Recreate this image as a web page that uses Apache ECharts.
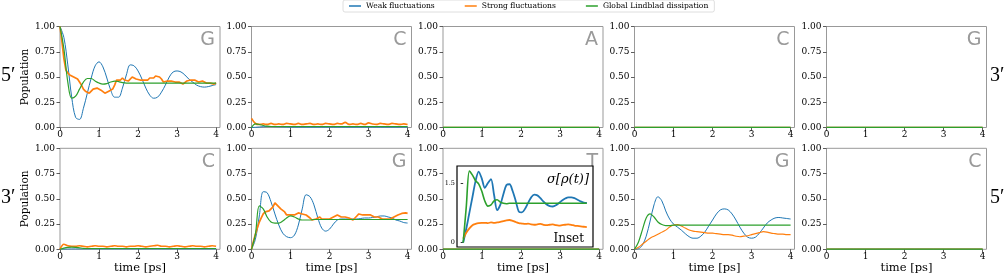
<!DOCTYPE html>
<html><head><meta charset="utf-8">
<script src="https://cdn.jsdelivr.net/npm/echarts@6/dist/echarts.min.js"></script>
<style>html,body{margin:0;padding:0;background:#fff}#c{width:1008px;height:276px}</style>
</head><body><div id="c"></div>
<script>
// ---------- time grids ----------
const T10 = [0,0.1,0.2,0.3,0.4,0.5,0.6,0.7,0.8,0.9,1.0,1.1,1.2,1.3,1.4,1.5,1.6,1.7,1.8,1.9,2.0,2.1,2.2,2.3,2.4,2.5,2.6,2.7,2.8,2.9,3.0,3.1,3.2,3.3,3.4,3.5,3.6,3.7,3.8,3.9,4.0];
const T05 = [0,0.05,0.1,0.15,0.2,0.25,0.3,0.35,0.4,0.45,0.5,0.55,0.6,0.65,0.7,0.75,0.8,0.85,0.9,0.95,1.0,1.05,1.1,1.15,1.2,1.25,1.3,1.35,1.4,1.45,1.5,1.55,1.6,1.65,1.7,1.75,1.8,1.85,1.9,1.95,2.0,2.05,2.1,2.15,2.2,2.25,2.3,2.35,2.4,2.45,2.5,2.55,2.6,2.65,2.7,2.75,2.8,2.85,2.9,2.95,3.0,3.05,3.1,3.15,3.2,3.25,3.3,3.35,3.4,3.45,3.5,3.55,3.6,3.65,3.7,3.75,3.8,3.85,3.9,3.95,4.0];
const TFLAT = [0,1,2,3,4];

// ---------- tick labels / texts ----------
const X_TICKS = [0,1,2,3,4];
const Y_TICKS = [0,0.25,0.5,0.75,1];
const INSET_Y_TICKS = [0,1.5];
const SERIES_NAMES = ['Weak fluctuations','Strong fluctuations','Global Lindblad dissipation'];
const TOP_LETTERS = ['G','C','A','C','G'];
const BOTTOM_LETTERS = ['C','G','T','G','C'];
const LEFT_ROW_LABELS = ['5\u2032','3\u2032'];
const RIGHT_ROW_LABELS = ['3\u2032','5\u2032'];

// ---------- top row, panel 1 (G) ----------
const top1Weak = [1.00,0.89,0.62,0.30,0.10,0.08,0.19,0.34,0.49,0.61,0.65,0.60,0.49,0.37,0.30,0.30,0.39,0.52,0.62,0.61,0.56,0.48,0.39,0.32,0.29,0.30,0.35,0.42,0.50,0.55,0.56,0.55,0.52,0.48,0.45,0.42,0.405,0.40,0.405,0.415,0.425];
const top1Strong = [1.00,0.85,0.68,0.57,0.54,0.52,0.52,0.50,0.49,0.48,
  0.45,0.42,0.38,0.36,0.35,0.34,0.36,0.38,0.37,0.39,
  0.38,0.37,0.36,0.34,0.35,0.36,0.37,0.38,0.42,0.47,
  0.48,0.47,0.49,0.47,0.48,0.46,0.47,0.50,0.49,0.48,
  0.49,0.47,0.46,0.47,0.48,0.47,0.49,0.50,0.49,0.51,
  0.52,0.50,0.48,0.45,0.44,0.46,0.47,0.46,0.47,0.45,
  0.44,0.45,0.44,0.43,0.44,0.46,0.45,0.47,0.48,0.47,
  0.46,0.45,0.44,0.46,0.45,0.44,0.43,0.44,0.44,0.43,0.44];
const top1Global = [1.00,0.78,0.45,0.29,0.31,0.38,0.45,0.485,0.485,0.46,0.44,0.43,0.435,0.45,0.46,0.455,0.445,0.44,0.44,0.44,0.44,0.44,0.44,0.44,0.44,0.44,0.44,0.44,0.44,0.44,0.44,0.44,0.44,0.44,0.44,0.44,0.44,0.44,0.44,0.44,0.44];

// ---------- top row, panel 2 (C) ----------
const top2Weak = [0.0,0.002,0.005,0.008,0.009,0.009,0.008,0.007,0.006,0.005,0.004,0.004,0.004,0.004,0.004,0.004,0.004,0.004,0.004,0.004,0.004,0.004,0.004,0.004,0.004,0.004,0.004,0.004,0.004,0.004,0.004,0.004,0.004,0.004,0.004,0.004,0.004,0.004,0.004,0.004,0.004];
const top2Strong = [0.09,0.04,0.03,0.035,0.03,0.04,0.03,0.035,0.03,0.04,0.035,0.03,0.04,0.03,0.035,0.04,0.03,0.035,0.03,0.04,0.035,0.03,0.04,0.035,0.05,0.03,0.035,0.03,0.04,0.03,0.045,0.035,0.03,0.04,0.035,0.03,0.04,0.035,0.03,0.035,0.03];
const top2Global = [0.0,0.035,0.03,0.02,0.013,0.01,0.01,0.01,0.01,0.01,0.01,0.01,0.01,0.01,0.01,0.01,0.01,0.01,0.01,0.01,0.01,0.01,0.01,0.01,0.01,0.01,0.01,0.01,0.01,0.01,0.01,0.01,0.01,0.01,0.01,0.01,0.01,0.01,0.01,0.01,0.01];

// ---------- near-zero panels ----------
const flatWeak = [0.001,0.001,0.001,0.001,0.001];
const flatStrong = [0.003,0.003,0.003,0.003,0.003];
const flatGlobal = [0.002,0.002,0.002,0.002,0.002];

// ---------- bottom row, panel 1 (C) ----------
const bot1Weak = [0.0,0.001,0.002,0.003,0.003,0.003,0.003,0.003,0.003,0.003,0.003,0.003,0.003,0.003,0.003,0.003,0.003,0.003,0.003,0.003,0.003,0.003,0.003,0.003,0.003,0.003,0.003,0.003,0.003,0.003,0.003,0.003,0.003,0.003,0.003,0.003,0.003,0.003,0.003,0.003,0.003];
const bot1Strong = [0.0,0.05,0.035,0.03,0.03,0.035,0.03,0.025,0.03,0.035,0.03,0.03,0.025,0.03,0.035,0.03,0.03,0.025,0.03,0.03,0.035,0.03,0.025,0.03,0.035,0.04,0.03,0.03,0.025,0.03,0.035,0.03,0.025,0.03,0.035,0.03,0.03,0.025,0.03,0.035,0.03];
const bot1Global = [0.0,0.012,0.02,0.022,0.02,0.015,0.01,0.008,0.008,0.008,0.008,0.008,0.008,0.008,0.008,0.008,0.008,0.008,0.008,0.008,0.008,0.008,0.008,0.008,0.008,0.008,0.008,0.008,0.008,0.008,0.008,0.008,0.008,0.008,0.008,0.008,0.008,0.008,0.008,0.008,0.008];

// ---------- bottom row, panel 2 (G) ----------
const bot2Weak = [0.0,0.10,0.33,0.57,0.56,0.47,0.35,0.24,0.16,0.125,0.115,0.14,0.24,0.40,0.54,0.52,0.44,0.31,0.21,0.18,0.20,0.25,0.29,0.30,0.30,0.30,0.30,0.30,0.305,0.31,0.31,0.315,0.32,0.33,0.33,0.32,0.31,0.29,0.28,0.265,0.26];
const bot2Strong = [0.00,0.08,0.15,0.21,0.27,0.31,0.35,0.37,0.38,0.38,
  0.39,0.42,0.46,0.44,0.42,0.40,0.39,0.37,0.34,0.33,
  0.34,0.33,0.34,0.35,0.36,0.36,0.35,0.36,0.34,0.33,
  0.31,0.29,0.28,0.30,0.31,0.32,0.30,0.29,0.30,0.29,
  0.30,0.31,0.32,0.33,0.34,0.33,0.32,0.31,0.32,0.33,
  0.31,0.30,0.29,0.31,0.33,0.35,0.36,0.34,0.35,0.34,
  0.35,0.34,0.33,0.32,0.33,0.32,0.31,0.30,0.31,0.30,
  0.29,0.30,0.31,0.32,0.33,0.34,0.35,0.355,0.35,0.36,0.355];
const bot2Global = [0.0,0.15,0.43,0.40,0.32,0.27,0.26,0.26,0.28,0.31,0.33,0.32,0.30,0.29,0.29,0.29,0.295,0.295,0.295,0.295,0.295,0.295,0.295,0.295,0.295,0.295,0.295,0.295,0.295,0.295,0.295,0.295,0.295,0.295,0.295,0.295,0.295,0.295,0.295,0.295,0.295];

// ---------- bottom row, panel 4 (G) ----------
const bot4Weak = [0.0,0.005,0.04,0.13,0.28,0.44,0.52,0.48,0.38,0.30,0.25,0.22,0.19,0.155,0.125,0.11,0.11,0.13,0.17,0.23,0.29,0.35,0.39,0.40,0.39,0.35,0.29,0.22,0.16,0.12,0.11,0.12,0.16,0.21,0.26,0.29,0.31,0.315,0.31,0.305,0.30];
const bot4Strong = [0.0,0.02,0.05,0.08,0.11,0.13,0.15,0.17,0.19,0.22,0.24,0.245,0.23,0.21,0.19,0.18,0.175,0.17,0.165,0.16,0.16,0.155,0.15,0.145,0.145,0.14,0.13,0.125,0.13,0.135,0.145,0.155,0.165,0.175,0.17,0.16,0.155,0.15,0.15,0.145,0.145];
const bot4Global = [0.0,0.07,0.19,0.31,0.35,0.32,0.27,0.245,0.235,0.235,0.24,0.24,0.24,0.24,0.24,0.24,0.24,0.24,0.24,0.24,0.24,0.24,0.24,0.24,0.24,0.24,0.24,0.24,0.24,0.24,0.24,0.24,0.24,0.24,0.24,0.24,0.24,0.24,0.24,0.24,0.24];

// ---------- inset (sigma[rho(t)]) ----------
const insetWeak = [0.0,0.35,0.75,1.15,1.55,1.79,1.62,1.38,1.50,1.60,1.20,0.82,0.95,1.22,1.45,1.47,1.30,1.05,0.78,0.76,0.85,1.00,1.14,1.21,1.19,1.12,1.03,0.96,0.92,0.91,0.94,1.00,1.06,1.11,1.14,1.14,1.12,1.08,1.04,1.01,1.00];
const insetStrong = [0.10,0.25,0.36,0.44,0.47,0.49,0.50,0.50,0.49,0.51,0.50,0.51,0.52,0.54,0.56,0.57,0.55,0.52,0.49,0.48,0.47,0.48,0.46,0.45,0.46,0.47,0.45,0.44,0.45,0.46,0.44,0.43,0.44,0.45,0.46,0.45,0.43,0.42,0.41,0.40,0.39];
const insetGlobal = [0.0,0.9,1.80,1.70,1.56,1.48,1.30,1.05,0.92,0.95,1.05,1.08,1.02,0.99,0.98,0.99,0.99,0.99,0.99,0.99,0.99,0.99,0.99,0.99,0.99,0.99,0.99,0.99,0.99,0.99,0.99,0.99,0.99,0.99,0.99,0.99,0.99,0.99,0.99,0.99,0.99];

// ---------- layout / style ----------
const GRID_LEFTS = [60,251.5,443,634.5,826.5];
const GRID_W = 160, GRID_H = 101;
const ROW_TOPS = [26.5,148.3];
const COLORS = ['#1f77b4','#ff7f0e','#2ca02c'];
const SERIF = "'DejaVu Serif', 'Liberation Serif', serif";

const panels = [
  {row:0,col:0,letter:TOP_LETTERS[0],d:[[T10,top1Weak],[T05,top1Strong],[T10,top1Global]],noisy:true},
  {row:0,col:1,letter:TOP_LETTERS[1],d:[[T10,top2Weak],[T10,top2Strong],[T10,top2Global]],noisy:true},
  {row:0,col:2,letter:TOP_LETTERS[2],d:[[TFLAT,flatWeak],[TFLAT,flatStrong],[TFLAT,flatGlobal]]},
  {row:0,col:3,letter:TOP_LETTERS[3],d:[[TFLAT,flatWeak],[TFLAT,flatStrong],[TFLAT,flatGlobal]]},
  {row:0,col:4,letter:TOP_LETTERS[4],d:[[TFLAT,flatWeak],[TFLAT,flatStrong],[TFLAT,flatGlobal]]},
  {row:1,col:0,letter:BOTTOM_LETTERS[0],d:[[T10,bot1Weak],[T10,bot1Strong],[T10,bot1Global]],noisy:true},
  {row:1,col:1,letter:BOTTOM_LETTERS[1],d:[[T10,bot2Weak],[T05,bot2Strong],[T10,bot2Global]],noisy:true},
  {row:1,col:2,letter:BOTTOM_LETTERS[2],d:[[TFLAT,flatWeak],[TFLAT,flatStrong],[TFLAT,flatGlobal]]},
  {row:1,col:3,letter:BOTTOM_LETTERS[3],d:[[T10,bot4Weak],[T10,bot4Strong],[T10,bot4Global]]},
  {row:1,col:4,letter:BOTTOM_LETTERS[4],d:[[TFLAT,flatWeak],[TFLAT,flatStrong],[TFLAT,flatGlobal]]}
];

const grid = [], xAxis = [], yAxis = [], series = [], graphic = [];
const labelStyle = {fontFamily:SERIF,fontSize:9,color:'#000'};

panels.forEach((p,i)=>{
  const left = GRID_LEFTS[p.col], top = ROW_TOPS[p.row];
  grid.push({left:left,top:top,width:GRID_W,height:GRID_H,show:true,borderColor:'#999',borderWidth:1,backgroundColor:'transparent'});
  xAxis.push({type:'value',gridIndex:i,min:0,max:4.1,
    axisLine:{show:false},splitLine:{show:false},
    axisTick:{show:true,length:3.5,customValues:X_TICKS,lineStyle:{color:'#333',width:0.8}},
    axisLabel:Object.assign({margin:3,customValues:X_TICKS,formatter:v=>String(v)},labelStyle),
    name:p.row===1?'time [ps]':'',nameLocation:'middle',nameGap:13,
    nameTextStyle:{fontFamily:SERIF,fontSize:11.5,color:'#000'}});
  yAxis.push({type:'value',gridIndex:i,min:0,max:1,interval:0.25,
    axisLine:{show:false},splitLine:{show:false},
    axisTick:{show:true,length:3.5,lineStyle:{color:'#333',width:0.8}},
    axisLabel:Object.assign({margin:5,formatter:v=>v.toFixed(2)},labelStyle),
    name:p.col===0?'Population':'',nameLocation:'middle',nameGap:27,
    nameTextStyle:{fontFamily:SERIF,fontSize:10.5,color:'#000'}});
  p.d.forEach((pair,k)=>{
    const t = pair[0], v = pair[1];
    let w = k===0?1:(k===1?(p.noisy?1.7:1.1):1.2);
    series.push({type:'line',name:SERIES_NAMES[k],xAxisIndex:i,yAxisIndex:i,
      data:t.map((x,j)=>[x,v[j]]),symbol:'none',showSymbol:false,
      smooth:(k===1&&t===T05)?false:0.35,
      lineStyle:{color:COLORS[k],width:w},itemStyle:{color:COLORS[k]},
      animation:false,z:2+k});
  });
  graphic.push({type:'text',x:left+GRID_W-5,y:top+4,
    style:{text:p.letter,font:"19px 'DejaVu Sans', sans-serif",fill:'#9a9a9a',align:'right',verticalAlign:'top'},z:1});
});

// inset
const INSET = {left:457,top:166,width:136,height:81};
const ii = grid.length;
grid.push({left:INSET.left,top:INSET.top,width:INSET.width,height:INSET.height,show:true,
  borderColor:'#000',borderWidth:1.2,backgroundColor:'#fff',z:5});
xAxis.push({type:'value',gridIndex:ii,min:-0.2,max:4.2,axisLine:{show:false},axisTick:{show:false},axisLabel:{show:false},splitLine:{show:false},z:5});
yAxis.push({type:'value',gridIndex:ii,min:-0.11,max:1.93,axisLine:{show:false},splitLine:{show:false},
  axisTick:{show:true,length:2.5,customValues:INSET_Y_TICKS,lineStyle:{color:'#000',width:0.8}},
  axisLabel:{show:true,margin:2,customValues:INSET_Y_TICKS,formatter:v=>String(v),fontFamily:SERIF,fontSize:6.5,color:'#000'},z:5});
[[insetWeak,1.8],[insetStrong,1.8],[insetGlobal,1.6]].forEach((pv,k)=>{
  series.push({type:'line',name:SERIES_NAMES[k],xAxisIndex:ii,yAxisIndex:ii,
    data:T10.map((x,j)=>[x,pv[0][j]]),symbol:'none',showSymbol:false,smooth:0.3,
    lineStyle:{color:COLORS[k],width:pv[1]},itemStyle:{color:COLORS[k]},animation:false,z:6+k});
});
graphic.push({type:'text',x:589,y:180,z:20,style:{text:'\u03c3[\u03c1(t)]',font:"italic 13px 'DejaVu Serif', serif",fill:'#000',align:'right',verticalAlign:'middle'}});
graphic.push({type:'text',x:584,y:245,z:20,style:{text:'Inset',font:"12px 'DejaVu Serif', serif",fill:'#000',align:'right',verticalAlign:'bottom'}});

// row labels
ROW_TOPS.forEach((top,r)=>{
  graphic.push({type:'text',x:1,y:top+GRID_H/2-1,style:{text:LEFT_ROW_LABELS[r],font:"20px 'Liberation Serif', serif",fill:'#000',align:'left',verticalAlign:'middle'}});
  graphic.push({type:'text',x:990,y:top+GRID_H/2-1,style:{text:RIGHT_ROW_LABELS[r],font:"20px 'Liberation Serif', serif",fill:'#000',align:'left',verticalAlign:'middle'}});
});

const chart = echarts.init(document.getElementById('c'),null,{renderer:'canvas'});
chart.setOption({
  backgroundColor:'#fff',
  animation:false,
  legend:{data:SERIES_NAMES,left:343,top:0,icon:'rect',itemWidth:12,itemHeight:1.5,itemGap:30,
    textStyle:{fontFamily:SERIF,fontSize:7.6,color:'#000'},
    borderColor:'#d5d5d5',borderWidth:0.8,borderRadius:2,padding:[2,6,2,6]},
  grid:grid,xAxis:xAxis,yAxis:yAxis,series:series,graphic:graphic
});
</script>
</body></html>
